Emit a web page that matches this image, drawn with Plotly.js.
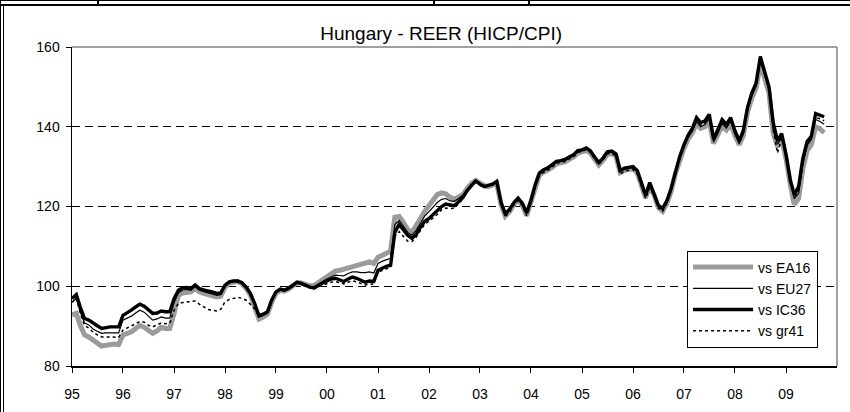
<!DOCTYPE html>
<html>
<head>
<meta charset="utf-8">
<script src="https://cdn.plot.ly/plotly-3.0.1.min.js"></script>
<style>
  html, body { margin: 0; padding: 0; background: #fff; }
  #wrap { position: relative; width: 850px; height: 412px; overflow: hidden; }
  #chart { position: absolute; left: 0; top: 0; width: 850px; height: 412px; }
  .fr { position: absolute; background: #000; }
</style>
</head>
<body>
<div id="wrap">
  <div id="chart"></div>
  <div class="fr" style="left:0;top:0;width:850px;height:1px;"></div>
  <div class="fr" style="left:0;top:4px;width:850px;height:2px;"></div>
  <div class="fr" style="left:0;top:0;width:1px;height:412px;"></div>
  <div class="fr" style="left:3px;top:4px;width:1px;height:408px;"></div>
  <div class="fr" style="left:97px;top:0;width:2px;height:5px;"></div>
  <div class="fr" style="left:433px;top:0;width:2px;height:5px;"></div>
  <div class="fr" style="left:528px;top:0;width:2px;height:5px;"></div>
</div>
<script>
// ---- data (monthly, starting Jan 1995) ----
const startYear = 1995;
const startMonth = 1;

const vsEA16 = [
  92.8, 93.2, 90.2, 87.8, 87.3, 86.5, 85.7, 85.0, 85.2, 85.5, 85.5, 85.4,
  87.8, 88.2, 88.6, 89.4, 90.2, 89.7, 88.8, 88.2, 88.8, 89.7, 89.4, 89.4,
  93.2, 97.7, 98.3, 98.6, 98.6, 99.4, 98.6, 98.2, 97.9, 97.7, 97.3, 97.5,
  99.8, 100.8, 101.1, 101.2, 100.7, 99.5, 97.8, 95.0, 91.8, 92.3, 93.0, 96.0,
  98.2, 99.0, 98.8, 99.3, 100.0, 100.9, 100.8, 100.4, 100.1, 100.2, 101.0, 101.8,
  102.6, 103.3, 103.8, 104.0, 104.3, 104.6, 105.0, 105.3, 105.6, 106.0, 106.1, 105.7,
  107.3, 107.8, 108.2, 108.8, 117.3, 117.5, 116.0, 114.2, 113.5, 115.0, 117.0, 118.8,
  120.4, 121.8, 123.0, 123.4, 123.2, 122.3, 121.8, 122.4, 123.0, 124.5, 125.8, 126.5,
  125.8, 125.2, 125.0, 125.3, 125.8, 120.5, 117.6, 118.7, 120.5, 121.6, 120.3, 117.7,
  121.0, 125.0, 127.9, 128.6, 129.1, 129.8, 130.7, 130.9, 131.2, 131.8, 132.4, 133.4,
  133.6, 134.1, 133.4, 131.8, 130.4, 131.6, 133.1, 133.3, 132.6, 128.5, 129.1, 129.3,
  129.5, 128.4, 125.5, 122.2, 124.9, 122.9, 119.8, 118.8, 120.8, 123.8, 128.3, 131.8,
  134.6, 137.0, 138.4, 140.8, 139.6, 140.0, 141.5, 135.8, 137.9, 140.2, 139.2, 140.8,
  137.8, 135.5, 137.8, 143.8, 147.2, 149.8, 155.8, 152.5, 148.5, 138.5, 135.0, 136.8,
  132.0, 125.5, 120.5, 122.0, 129.5, 134.0, 135.5, 140.0, 139.5, 138.5
];

const vsEU27 = [
  96.0, 97.0, 93.5, 90.8, 90.3, 89.3, 88.7, 88.2, 88.3, 88.3, 88.3, 88.3,
  91.5, 92.0, 92.5, 93.3, 94.0, 93.5, 92.5, 91.5, 91.8, 92.3, 92.0, 92.0,
  96.0, 98.3, 99.0, 99.2, 99.0, 99.9, 99.0, 98.6, 98.3, 98.1, 97.7, 97.9,
  100.0, 100.9, 101.2, 101.2, 100.8, 99.6, 98.0, 95.4, 92.3, 92.7, 93.3, 96.2,
  98.4, 99.1, 98.9, 99.4, 100.1, 100.9, 100.7, 100.3, 99.9, 99.8, 100.6, 101.2,
  101.8, 102.4, 102.8, 102.7, 102.6, 103.2, 103.6, 103.6, 103.4, 103.4, 103.6, 103.3,
  105.7, 106.3, 106.6, 107.0, 115.5, 116.5, 115.1, 113.5, 112.8, 114.0, 115.8, 117.6,
  118.7, 119.9, 121.0, 121.8, 122.0, 121.4, 121.3, 122.0, 122.9, 124.3, 125.6, 126.5,
  125.6, 125.1, 125.2, 125.5, 126.0, 120.8, 117.9, 119.0, 120.8, 121.9, 120.6, 118.1,
  121.3, 125.3, 128.2, 129.0, 129.5, 130.2, 131.1, 131.3, 131.6, 132.2, 132.8, 133.8,
  134.0, 134.5, 133.8, 132.2, 130.8, 132.0, 133.5, 133.7, 133.0, 128.8, 129.4, 129.6,
  129.8, 128.8, 125.8, 122.5, 125.2, 123.2, 120.1, 119.1, 121.1, 124.1, 128.6, 132.1,
  135.0, 137.4, 138.9, 141.3, 140.0, 140.6, 142.1, 136.2, 138.4, 140.8, 139.7, 141.4,
  138.2, 135.8, 138.2, 144.2, 147.7, 150.3, 156.6, 153.2, 149.2, 139.3, 135.6, 137.4,
  132.8, 126.8, 122.0, 123.3, 130.8, 135.3, 136.8, 141.8, 141.3, 140.6
];

const vsIC36 = [
  96.9, 97.9, 94.8, 91.9, 91.5, 90.7, 90.1, 89.4, 89.7, 89.8, 89.8, 89.8,
  92.7, 93.3, 94.0, 94.8, 95.5, 95.0, 94.2, 93.2, 93.3, 93.8, 93.6, 93.6,
  96.9, 99.0, 99.6, 99.7, 99.4, 100.3, 99.4, 99.0, 98.8, 98.6, 98.2, 98.3,
  100.3, 101.1, 101.3, 101.3, 100.9, 99.8, 98.2, 95.7, 92.6, 93.0, 93.6, 96.5,
  98.6, 99.3, 99.0, 99.5, 100.2, 101.0, 100.7, 100.2, 99.8, 99.6, 100.3, 100.8,
  101.3, 101.8, 102.0, 101.6, 101.2, 101.8, 102.3, 102.0, 101.5, 101.0, 101.3, 101.2,
  104.0, 104.6, 105.0, 105.3, 113.5, 115.5, 114.3, 112.8, 112.0, 113.0, 114.8, 116.3,
  117.0, 118.0, 119.0, 120.0, 120.6, 120.3, 120.2, 121.2, 122.3, 124.0, 125.3, 126.4,
  125.6, 125.0, 125.3, 125.6, 126.3, 121.0, 118.2, 119.3, 121.0, 122.1, 120.8, 118.4,
  121.5, 125.5, 128.4, 129.2, 129.7, 130.4, 131.3, 131.5, 131.8, 132.4, 133.0, 134.0,
  134.2, 134.7, 134.0, 132.4, 131.0, 132.2, 133.7, 133.9, 133.2, 129.0, 129.6, 129.8,
  130.0, 129.0, 126.3, 122.8, 126.0, 123.0, 120.3, 119.5, 121.5, 124.5, 129.0, 132.5,
  135.5, 138.0, 139.5, 142.3, 141.0, 141.5, 143.1, 137.0, 139.3, 141.8, 140.6, 142.3,
  139.0, 136.5, 139.0, 145.0, 148.5, 151.0, 157.6, 154.0, 150.0, 141.0, 136.5, 138.3,
  133.0, 126.5, 123.0, 125.0, 132.0, 136.3, 137.6, 143.3, 143.0, 142.5
];

const vsGR41 = [
  96.0, 97.0, 93.2, 90.2, 89.5, 88.5, 87.8, 87.3, 87.3, 87.3, 87.3, 87.2,
  89.0, 89.5, 90.0, 90.6, 91.2, 91.0, 90.2, 89.8, 90.3, 90.8, 90.6, 90.7,
  94.0, 95.7, 95.9, 96.0, 96.1, 96.3, 95.5, 94.8, 94.2, 94.0, 93.8, 94.2,
  96.1, 96.7, 97.0, 97.2, 97.0, 96.5, 95.5, 94.3, 92.5, 92.8, 93.4, 96.3,
  98.5, 99.2, 98.9, 99.4, 100.0, 100.8, 100.5, 100.0, 99.6, 99.3, 99.9, 100.3,
  100.7, 101.0, 101.2, 100.9, 100.6, 101.0, 101.4, 101.1, 100.7, 100.3, 100.6, 100.5,
  103.5, 104.0, 104.4, 104.7, 112.5, 113.7, 112.5, 111.3, 111.2, 112.3, 114.0, 115.5,
  116.3, 117.2, 118.0, 119.2, 119.6, 119.5, 119.6, 120.7, 122.0, 123.7, 125.0, 126.2,
  125.3, 124.9, 125.1, 125.4, 125.9, 120.6, 117.5, 118.6, 120.4, 121.5, 120.2, 117.6,
  120.8, 124.8, 127.7, 128.6, 129.1, 129.8, 130.8, 131.0, 131.3, 131.9, 132.5, 133.5,
  133.8, 134.3, 133.6, 131.9, 130.5, 131.8, 133.2, 133.4, 132.6, 128.1, 128.9, 129.1,
  129.3, 128.1, 125.2, 122.0, 124.7, 122.6, 119.6, 118.8, 120.8, 123.9, 128.5, 132.0,
  135.1, 137.5, 139.0, 141.6, 140.4, 141.0, 142.5, 136.5, 138.7, 141.2, 140.0, 141.7,
  138.4, 135.9, 138.4, 144.5, 148.0, 150.5, 157.0, 153.5, 149.4, 139.2, 133.4, 137.2,
  132.5, 126.5, 122.2, 123.7, 130.9, 135.5, 137.0, 142.3, 142.0, 141.5
];

const tickYears = [1995,1996,1997,1998,1999,2000,2001,2002,2003,2004,2005,2006,2007,2008,2009];
const tickLabels = ['95','96','97','98','99','00','01','02','03','04','05','06','07','08','09'];
const seriesNames = ['vs EA16', 'vs EU27', 'vs IC36', 'vs gr41'];

// ---- build x dates ----
function monthDates(n) {
  const out = [];
  for (let i = 0; i < n; i++) {
    const tot = (startMonth - 1) + i;
    const y = startYear + Math.floor(tot / 12);
    const m = (tot % 12) + 1;
    out.push(y + '-' + String(m).padStart(2, '0') + '-01');
  }
  return out;
}
const xDates = monthDates(vsIC36.length);
const tickVals = tickYears.map(y => y + '-01-01');

const FONT = '"Liberation Sans", Arial, sans-serif';

const traces = [
  { x: xDates, y: vsEA16, name: seriesNames[0], legendgroup: 'a', type: 'scatter', mode: 'lines',
    line: { color: '#9b9b9b', width: 5 } },
  { x: xDates, y: vsEU27, name: seriesNames[1], legendgroup: 'b', type: 'scatter', mode: 'lines',
    line: { color: '#000000', width: 1.2 } },
  { x: xDates, y: vsIC36, name: seriesNames[2], legendgroup: 'c', type: 'scatter', mode: 'lines',
    line: { color: '#000000', width: 3.4 } },
  { x: xDates, y: vsGR41, name: seriesNames[3], legendgroup: 'd', type: 'scatter', mode: 'lines',
    line: { color: '#000000', width: 1.5, dash: '3px,3px' } }
];

const layout = {
  width: 850, height: 412,
  margin: { l: 72, r: 13, t: 47, b: 46 },
  paper_bgcolor: '#ffffff', plot_bgcolor: '#ffffff',
  font: { family: FONT, size: 13, color: '#000' },
  title: { text: 'Hungary - REER (HICP/CPI)', font: { family: FONT, size: 19, color: '#000' },
           x: 0.519, xanchor: 'center', y: 0.918, yanchor: 'middle' },
  xaxis: {
    type: 'date', range: ['1995-01-01', '2010-01-01'],
    tickmode: 'array', tickvals: tickVals, ticktext: tickLabels,
    ticks: 'outside', ticklen: 5, tickwidth: 1, tickcolor: '#000',
    showline: true, linecolor: '#000', linewidth: 1.5,
    showgrid: false, zeroline: false, ticklabelstandoff: 10,
    tickfont: { family: FONT, size: 14, color: '#000' }
  },
  yaxis: {
    range: [80, 160], tickmode: 'array', tickvals: [80, 100, 120, 140, 160],
    ticks: 'outside', ticklen: 5, tickwidth: 1, tickcolor: '#000',
    showline: true, linecolor: '#000', linewidth: 1.5,
    showgrid: true, gridcolor: '#000', gridwidth: 1, griddash: '8px,5px',
    zeroline: false, ticklabelstandoff: 3,
    tickfont: { family: FONT, size: 14, color: '#000' }
  },
  shapes: [
    { type: 'line', xref: 'paper', yref: 'paper', x0: 0, x1: 1, y0: 1, y1: 1,
      line: { color: '#808080', width: 1.5 } },
    { type: 'line', xref: 'paper', yref: 'paper', x0: 1, x1: 1, y0: 0, y1: 1,
      line: { color: '#808080', width: 1.5 } }
  ],
  showlegend: true,
  legend: {
    x: 0.804, xanchor: 'left', y: 0.362, yanchor: 'top',
    bgcolor: '#ffffff', bordercolor: '#000', borderwidth: 1,
    font: { family: FONT, size: 14, color: '#000' },
    traceorder: 'normal', itemwidth: 60, tracegroupgap: 6
  }
};

Plotly.newPlot('chart', traces, layout, { displayModeBar: false, staticPlot: true });
</script>
</body>
</html>
